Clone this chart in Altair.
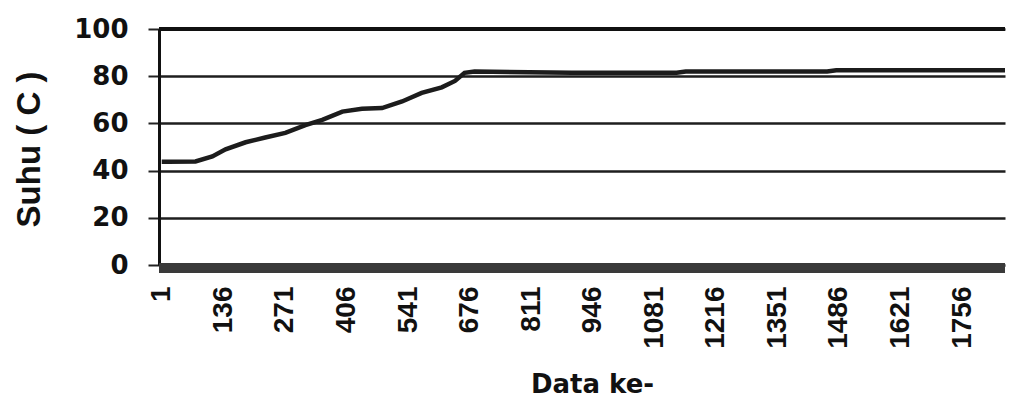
import altair as alt
import pandas as pd

# Reading index (Data ke-) and temperature (Suhu, C)
data_index = [1, 14, 75, 112, 141, 185, 228, 272, 316, 353, 397, 440, 484, 528,
              571, 615, 644, 665, 687, 900, 1130, 1150, 1460, 1480, 1850]
suhu = [43.8, 43.8, 43.9, 46.0, 49.0, 52.0, 54.0, 56.0, 59.3, 61.5, 65.0, 66.2, 66.5, 69.3,
        72.9, 75.3, 78.0, 81.4, 82.0, 81.5, 81.5, 82.0, 82.0, 82.5, 82.5]

x_ticks = [1, 136, 271, 406, 541, 676, 811, 946, 1081, 1216, 1351, 1486, 1621, 1756]
y_ticks = [0, 20, 40, 60, 80, 100]
x_domain = [-5, 1850]

df = pd.DataFrame({"idx": data_index, "suhu": suhu})

x_enc = alt.X(
    "idx:Q",
    scale=alt.Scale(domain=x_domain, nice=False, zero=False),
    axis=alt.Axis(
        title="Data ke-",
        values=x_ticks,
        format="d",
        labelAngle=-90,
        labelFont="Liberation Sans",
        labelFontWeight="bold",
        labelFontSize=28,
        labelColor="#111",
        labelPadding=21,
        tickSize=0,
        domain=False,
        grid=False,
        titleFont="DejaVu Sans",
        titleFontWeight="bold",
        titleFontSize=26,
        titleColor="#111",
        titleX=433,
        titleY=127,
        titleAlign="center",
        titleBaseline="alphabetic",
    ),
)

y_enc = alt.Y(
    "suhu:Q",
    scale=alt.Scale(domain=[0, 100], nice=False),
    axis=alt.Axis(
        title="Suhu ( C )",
        values=y_ticks,
        labelFont="DejaVu Sans",
        labelFontWeight="bold",
        labelFontSize=26,
        labelColor="#111",
        labelPadding=20,
        tickSize=11,
        tickWidth=2,
        tickColor="#222",
        domain=True,
        domainColor="#111",
        domainWidth=3,
        grid=True,
        gridColor="#1e1e1e",
        gridWidth=2.6,
        gridOpacity=1,
        titleFont="Liberation Sans",
        titleFontWeight="bold",
        titleFontSize=33,
        titleColor="#111",
        titleAngle=270,
        titleX=-130,
        titleY=120,
        titleAlign="center",
        titleBaseline="middle",
    ),
)

line = alt.Chart(df).mark_line(color="#1c1c1c", strokeWidth=4.5).encode(x=x_enc, y=y_enc)

top_rule = alt.Chart(df).mark_rule(color="#111", strokeWidth=3).encode(
    y=alt.datum(100)
)

base_band = alt.Chart(df).mark_rule(color="#3a3a3a", strokeWidth=9, yOffset=3).encode(
    y=alt.datum(0)
)

chart = (
    alt.layer(line, top_rule, base_band)
    .properties(
        width=846,
        height=236,
        autosize="none",
        padding={"left": 159, "top": 29, "right": 4, "bottom": 134},
        background="white",
    )
    .configure_view(strokeWidth=0)
)

chart.save("out.html", embed_options={"renderer": "svg", "actions": False})
